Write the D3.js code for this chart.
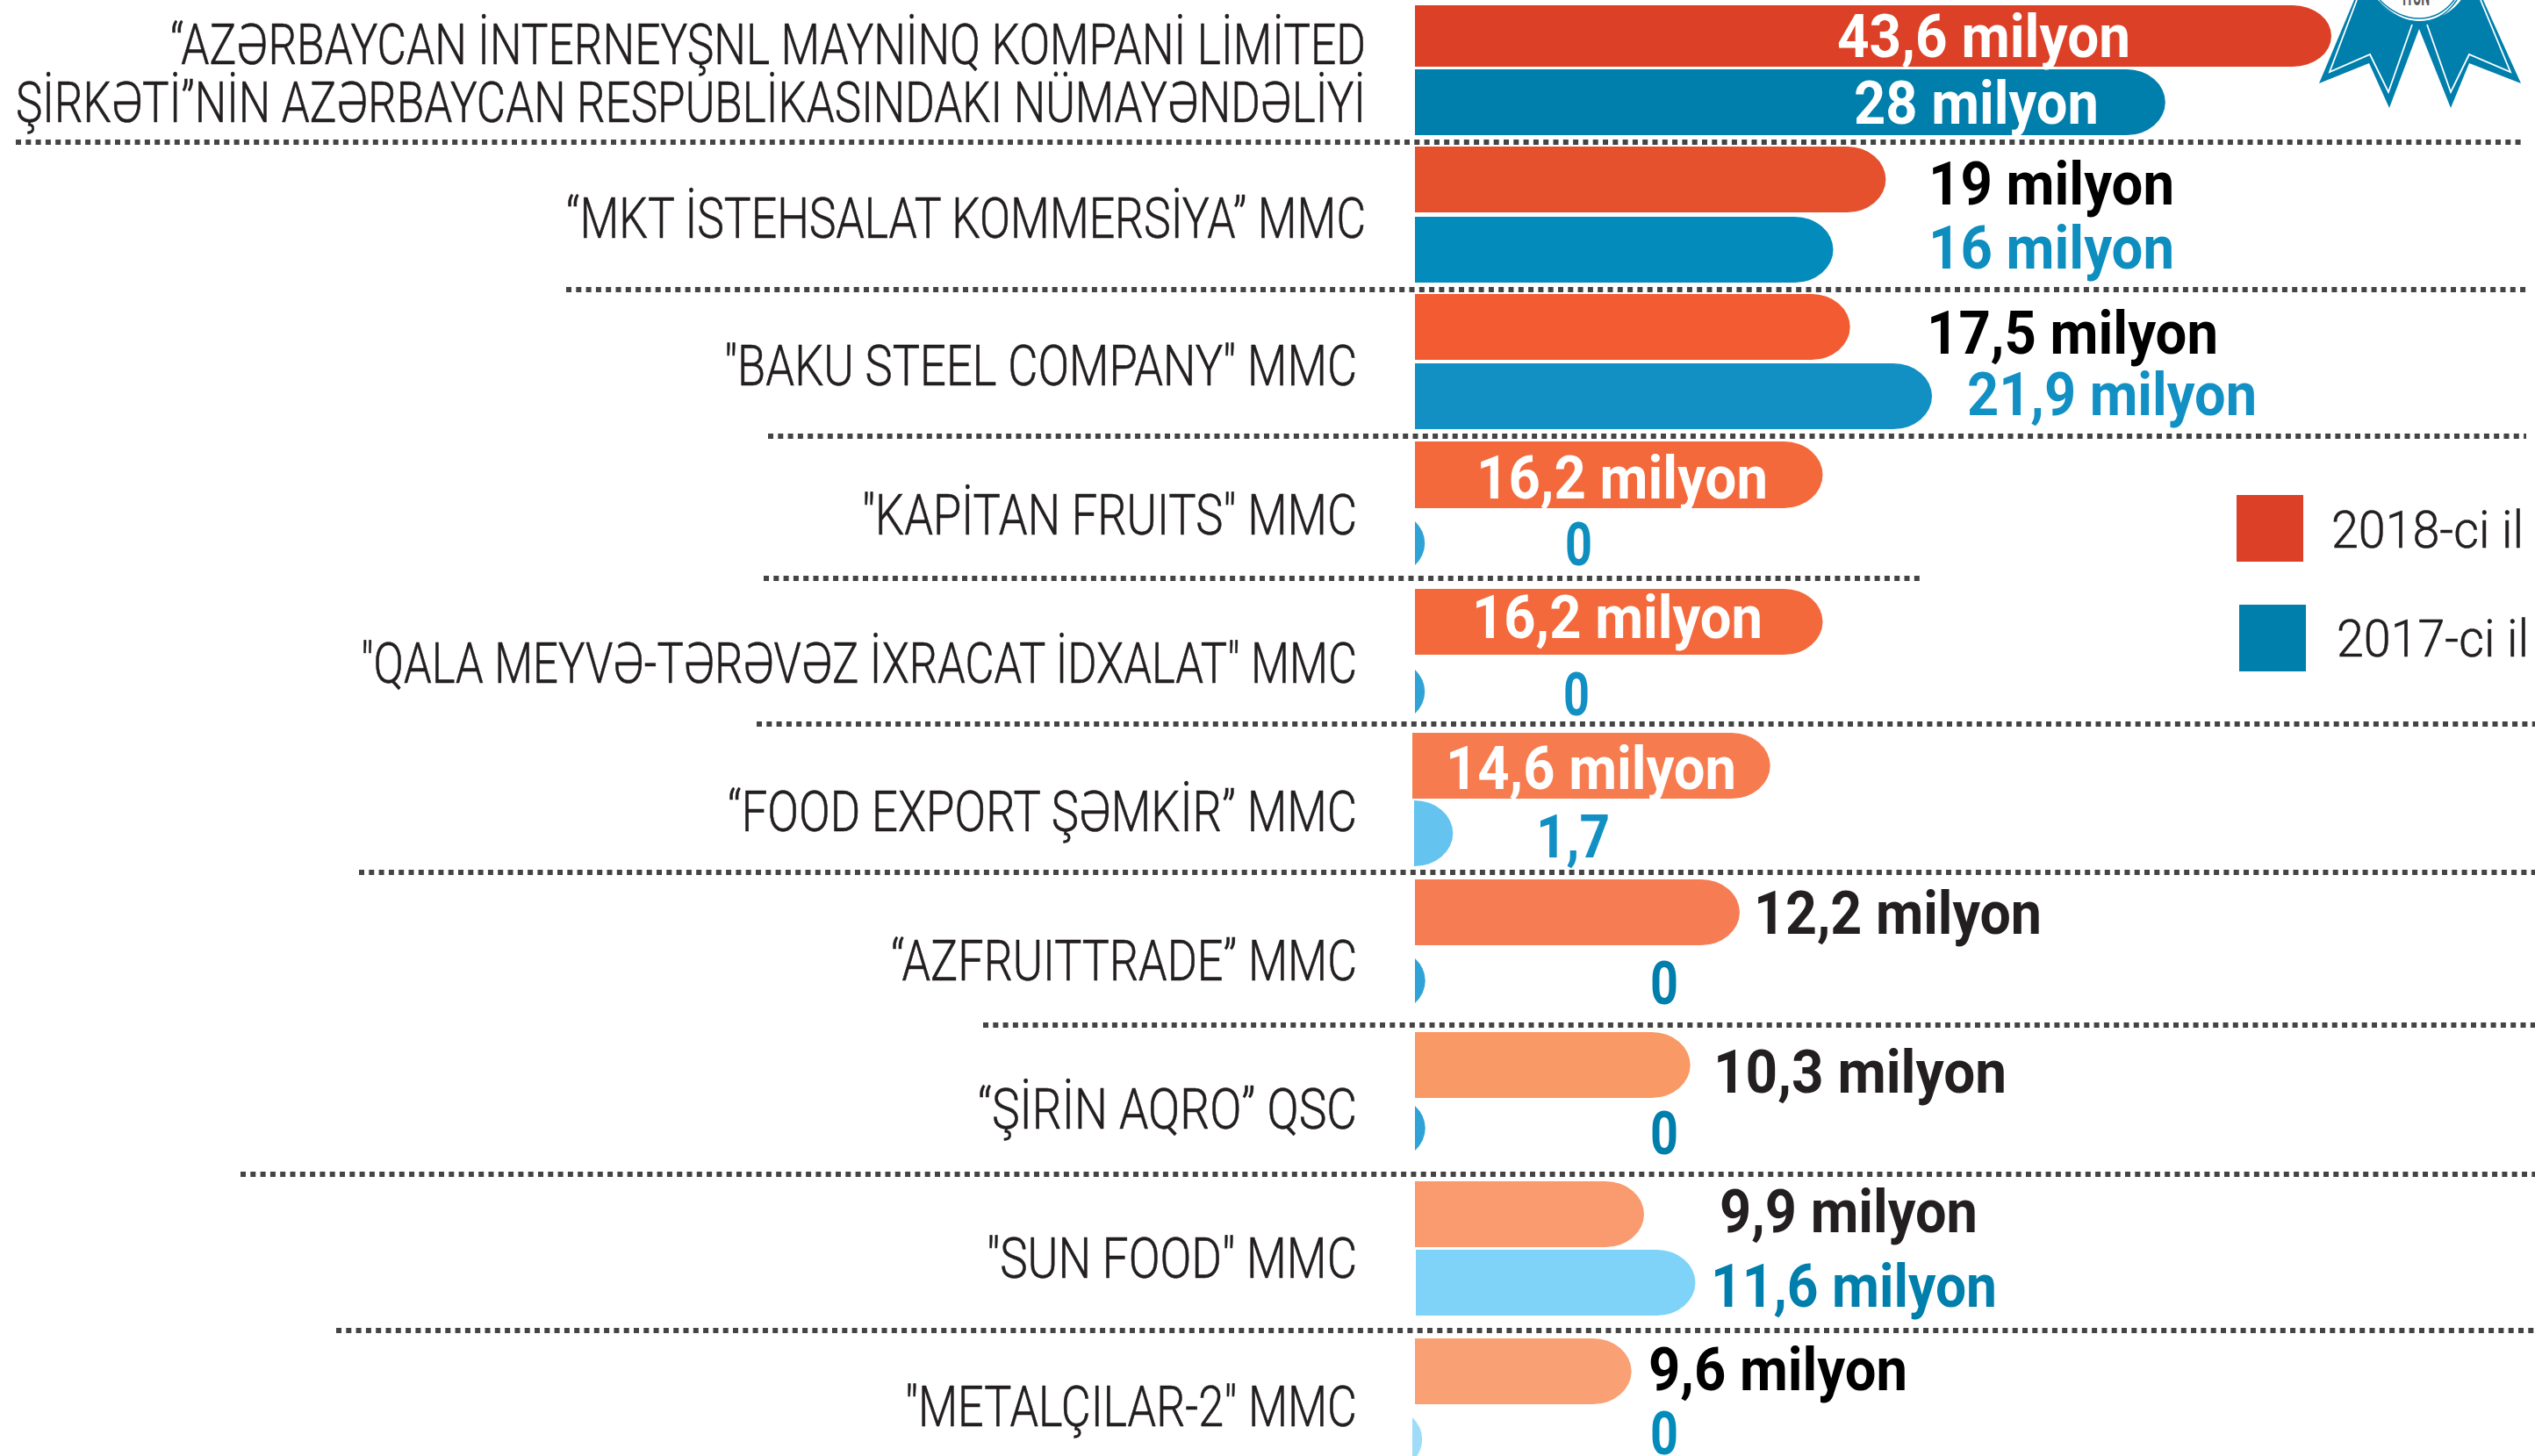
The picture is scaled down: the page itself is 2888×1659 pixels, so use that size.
<!DOCTYPE html>
<html lang="az">
<head>
<meta charset="utf-8">
<script src="https://cdn.jsdelivr.net/npm/d3@7/dist/d3.min.js"></script>
<style>
html,body{margin:0;padding:0;background:#fff;overflow:hidden}
svg{display:block}
</style>
</head>
<body>
<script>
// ---------- data ----------
const categories = ["c1","c2","c3","c4","c5","c6","c7","c8","c9","c10"];
const categoryLines = [
  ["“AZƏRBAYCAN İNTERNEYŞNL MAYNİNQ KOMPANİ LİMİTED","ŞİRKƏTİ”NİN AZƏRBAYCAN RESPUBLİKASINDAKI NÜMAYƏNDƏLİYİ"],
  ["“MKT İSTEHSALAT KOMMERSİYA” MMC"],
  ["\"BAKU STEEL COMPANY\" MMC"],
  ["\"KAPİTAN FRUITS\" MMC"],
  ["\"QALA MEYVƏ-TƏRƏVƏZ İXRACAT İDXALAT\" MMC"],
  ["“FOOD EXPORT ŞƏMKİR” MMC"],
  ["“AZFRUITTRADE” MMC"],
  ["“ŞİRİN AQRO” QSC"],
  ["\"SUN FOOD\" MMC"],
  ["\"METALÇILAR-2\" MMC"]
];
const labels2018 = ["43,6 milyon","19 milyon","17,5 milyon","16,2 milyon","16,2 milyon","14,6 milyon","12,2 milyon","10,3 milyon","9,9 milyon","9,6 milyon"];
const labels2017 = ["28 milyon","16 milyon","21,9 milyon","0","0","1,7","0","0","11,6 milyon","0"];
// Bar lengths as drawn in the picture: the reference's bars are not strictly
// proportional to their printed labels, so they are read off separately.
const drawn2018 = [43.6,22.4,20.7,19.4,19.4,16.9,15.45,13.1,10.9,10.3];
const drawn2017 = [35.7,19.9,24.6,0.5,0.5,1.85,0.46,0.46,13.3,0.46];
const legendLabels = ["2018-ci il","2017-ci il"];

// ---------- layout and style (separate from the data) ----------
const W = 2888, H = 1659;
const x = d3.scaleLinear().domain([0,43.6]).range([1612,2656]);
const top2018 = d3.scaleOrdinal().domain(categories).range([6,167,335,503,671,835,1002,1176,1346,1525]);
const top2017 = d3.scaleOrdinal().domain(categories).range([79,247,414,594,763,912,1092,1260,1424,1615]);
const height2018 = d3.scaleOrdinal().domain(categories).range([70,75,75,76,75,75,75,75,75,75]);
const height2017 = d3.scaleOrdinal().domain(categories).range([75,75,75,50,50,75,51,51,75,50]);
const nudge2018 = d3.scaleOrdinal().domain(categories).range([0,0,0,0,0,-3,0,0,0,0]);
const nudge2017 = d3.scaleOrdinal().domain(categories).range([0,0,0,0,0,-1,0,0,1,-3]);
const colour2018 = d3.scaleOrdinal().domain(categories).range(["#DC4128","#E5502D","#F35B32","#F4693B","#F4693B","#F67C50","#F67C54","#F99965","#F99A6F","#F9A075"]);
const colour2017 = d3.scaleOrdinal().domain(categories).range(["#007EAC","#028BBB","#1290C4","#2FA2D6","#2FA2D6","#65C3F0","#2FA2D6","#2FA2D6","#7FD3F8","#9EDCF8"]);

const place2018 = [[2093,2427,65,"#fff"],[2197,2477,233,"#000"],[2195,2527,403,"#000"],[1682,2014,568,"#fff"],[1677,2008,727,"#fff"],[1647,1978,899,"#fff"],[1998,2326,1064,"#231F20"],[1952,2286,1245,"#231F20"],[1959,2253,1404,"#231F20"],[1878,2173,1584,"#000"]];
const place2017 = [[2112,2391,141,"#fff"],[2197,2477,306,"#0E8DBF"],[2241,2571,473,"#1290C4"],[1783,1814,644,"#0E8DBF"],[1781,1811,815,"#1290C4"],[1750,1834,977,"#1290C4"],[1880,1912,1144,"#007EAC"],[1880,1912,1315,"#007EAC"],[1949,2275,1489,"#007EAC"],[1880,1912,1657,"#028BBB"]];
const placeCategory = [[[194,1556,73],[18,1556,139]],[[645,1556,271]],[[825,1546,439]],[[982,1546,609]],[[411,1546,778]],[[829,1546,947]],[[1015,1546,1117]],[[1114,1546,1286]],[[1124,1546,1456]],[[1031,1546,1625]]];
const separators = [[18,2875,162],[645,2880,330],[875,2878,497],[870,2189,659],[862,2888,825],[409,2888,994],[1120,2888,1168],[274,2888,1338],[383,2888,1516]];

const svg = d3.select("body").append("svg").attr("width",W).attr("height",H).attr("viewBox",[0,0,W,H]);

// bar: flat left side, elliptical right end. Very short bars show only the tip of the curve.
function barPath(x0,x1,y0,h){
  const rx = 44, w = x1-x0, y1 = y0+h;
  if (w < rx) {
    const ry = w < 20 ? 37.5 : h/2, arcRx = w < 20 ? rx : w;
    return `M${x0},${y0}A${arcRx},${ry} 0 0 1 ${x0},${y1}Z`;
  }
  const ry = h/2;
  return `M${x0},${y0}H${x1-rx}A${rx},${ry} 0 0 1 ${x1-rx},${y1}H${x0}Z`;
}

// separators
svg.append("g").selectAll("line").data(separators).join("line")
  .attr("x1",d=>d[0]).attr("x2",d=>d[1]).attr("y1",d=>d[2]).attr("y2",d=>d[2])
  .attr("stroke","#444").attr("stroke-width",6).attr("stroke-dasharray","6 5.3");

// bars
svg.append("g").selectAll("path").data(categories.map((c,i)=>({c,v:drawn2018[i]}))).join("path")
  .attr("d",d=>barPath(x(0)+nudge2018(d.c),x(d.v),top2018(d.c),height2018(d.c)))
  .attr("fill",d=>colour2018(d.c));
svg.append("g").selectAll("path").data(categories.map((c,i)=>({c,v:drawn2017[i]}))).join("path")
  .attr("d",d=>barPath(x(0)+nudge2017(d.c),x(d.v)+nudge2017(d.c),top2017(d.c),height2017(d.c)))
  .attr("fill",d=>colour2017(d.c));

// value labels
function valueLabels(texts,place){
  svg.append("g").selectAll("text").data(texts.map((t,i)=>({t,p:place[i]}))).join("text")
    .attr("x",d=>d.p[0]).attr("y",d=>d.p[2])
    .attr("textLength",d=>d.p[1]-d.p[0]).attr("lengthAdjust","spacingAndGlyphs")
    .attr("font-family","Roboto, sans-serif").attr("font-weight",700).attr("font-size",68)
    .attr("fill",d=>d.p[3]).text(d=>d.t);
}
valueLabels(labels2018,place2018);
valueLabels(labels2017,place2017);

// category labels
const catLines = categoryLines.flatMap((lines,i)=>lines.map((t,j)=>({t,p:placeCategory[i][j]})));
svg.append("g").selectAll("text").data(catLines).join("text")
  .attr("x",d=>d.p[0]).attr("y",d=>d.p[2])
  .attr("textLength",d=>d.p[1]-d.p[0]).attr("lengthAdjust","spacingAndGlyphs")
  .attr("font-family","Roboto, sans-serif").attr("font-weight",300).attr("font-size",65)
  .attr("fill","#231F20").attr("stroke","#231F20").attr("stroke-width",0.6).text(d=>d.t);

// legend
const legendSwatches = [[2548,564,"#DC4128"],[2551,689,"#007EAC"]];
const legendText = [[2656,219,624],[2662,219,748]];
const legend = svg.append("g");
legend.selectAll("rect").data(legendSwatches).join("rect")
  .attr("x",d=>d[0]).attr("y",d=>d[1]).attr("width",76).attr("height",76).attr("fill",d=>d[2]);
legend.selectAll("text").data(legendLabels.map((t,i)=>({t,p:legendText[i]}))).join("text")
  .attr("x",d=>d.p[0]).attr("y",d=>d.p[2])
  .attr("textLength",d=>d.p[1]).attr("lengthAdjust","spacingAndGlyphs")
  .attr("font-family","Roboto, sans-serif").attr("font-weight",300).attr("font-size",60)
  .attr("fill","#231F20").attr("stroke","#231F20").attr("stroke-width",0.6).text(d=>d.t);

// rosette at the top right
const medal = svg.append("g");
medal.append("path").attr("fill","#007EAC")
  .attr("d","M2682,0L2642,95L2699,72L2722,123L2756,33L2792,123L2813,72L2872,95L2829,0Z");
medal.append("path").attr("fill","none").attr("stroke","#fff").attr("stroke-width",1.8)
  .attr("d","M2685,0L2654,82L2700,62L2721,105L2748,28M2765,28L2792,105L2813,62L2860,82L2826,0");
medal.append("ellipse").attr("cx",2756).attr("cy",-32).attr("rx",58).attr("ry",56).attr("fill","#fff");
medal.append("path").attr("fill","none").attr("stroke","#007EAC").attr("stroke-width",1.5)
  .attr("d","M2711,0Q2732,21 2756,21Q2780,21 2796,0");
medal.append("path").attr("fill","none").attr("stroke","#007EAC").attr("stroke-width",1.5)
  .attr("d","M2708,0Q2732,25 2756,25Q2782,25 2799,0");
medal.append("text").attr("x",2737).attr("y",6).attr("textLength",31).attr("lengthAdjust","spacingAndGlyphs")
  .attr("font-family","Roboto, sans-serif").attr("font-weight",700).attr("font-size",30).attr("fill","#58595B").text("İYUN");
</script>
</body>
</html>
